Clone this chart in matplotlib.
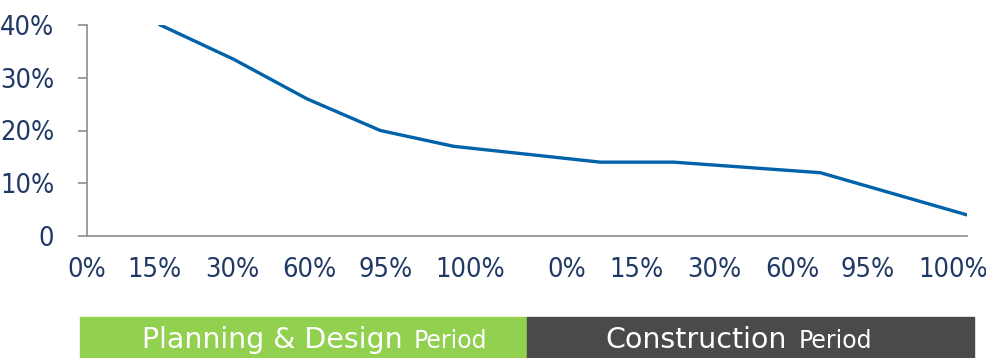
import matplotlib
matplotlib.use("Agg")
import matplotlib.pyplot as plt
from matplotlib import font_manager
from matplotlib.patches import Rectangle

# share of influence over project outcome, by stage progress
stage_idx = [1, 2, 3, 4, 5, 6, 7, 8, 9, 10, 11, 12]
share = [40, 33.5, 26, 20, 17, 15.5, 14, 14, 13, 12, 8, 4]

x_labels = ["0%", "15%", "30%", "60%", "95%", "100%",
            "0%", "15%", "30%", "60%", "95%", "100%"]
y_ticks = [0, 10, 20, 30, 40]
y_labels = ["0", "10%", "20%", "30%", "40%"]

periods = ["Planning & Design", "Construction"]

# narrow face for the tick labels if one is there
cond = [f for f in font_manager.fontManager.ttflist
        if f.name == "DejaVu Sans" and "Condensed" in f.fname]
if cond:
    tick_font = dict(family="DejaVu Sans", stretch="condensed")
    tick_size = 19.5
else:
    tick_font = dict(family="Roboto")
    tick_size = 19

navy = "#203864"
blue = "#0062A8"
grey = "#8C8C8C"

fig = plt.figure(figsize=(9.87, 3.58), dpi=100)
ax = fig.add_axes([87/987, 1-236/358, 880/987, 211/358])

ax.plot(stage_idx, share, color=blue, lw=2.4, solid_joinstyle="round")

ax.set_xlim(0, 12)
ax.set_ylim(0, 40)

# label centres (two groups of six)
label_px = [87, 155, 232, 309, 386, 470, 567, 637, 714, 792, 868, 953]
ax.set_xticks([(p - 87) / (880/12) for p in label_px])
ax.set_xticklabels(x_labels)
ax.set_yticks(y_ticks)
ax.set_yticklabels(y_labels)

for s in ["top", "right"]:
    ax.spines[s].set_visible(False)
for s in ["left", "bottom"]:
    ax.spines[s].set_color(grey)
    ax.spines[s].set_linewidth(1.2)

ax.tick_params(axis="x", length=0, pad=15, labelsize=tick_size, labelcolor=navy)
ax.tick_params(axis="y", length=6.5, width=1.2, color=grey, pad=17,
               labelsize=tick_size, labelcolor=navy)
for lab in ax.get_xticklabels() + ax.get_yticklabels():
    lab.set_fontfamily(tick_font["family"])
    if "stretch" in tick_font:
        lab.set_fontstretch(tick_font["stretch"])

# period band under the chart
band_h = (358 - 317) / 358
fig.patches.append(Rectangle((80/987, 0), (527-80)/987, band_h,
                             transform=fig.transFigure, color="#92D050", zorder=0))
fig.patches.append(Rectangle((527/987, 0), (974-527)/987, band_h,
                             transform=fig.transFigure, color="#4A4A4A", zorder=0))

ty = (358 - 348) / 358
fig.text(403/987, ty, periods[0], ha="right", va="baseline", color="white",
         fontsize=20.5, family="DejaVu Sans")
fig.text(414/987, ty, "Period", ha="left", va="baseline", color="white",
         fontsize=17, family="DejaVu Sans")
fig.text(787/987, ty, periods[1], ha="right", va="baseline", color="white",
         fontsize=20.5, family="DejaVu Sans")
fig.text(799/987, ty, "Period", ha="left", va="baseline", color="white",
         fontsize=17, family="DejaVu Sans")

fig.savefig("out.png", dpi=100)
